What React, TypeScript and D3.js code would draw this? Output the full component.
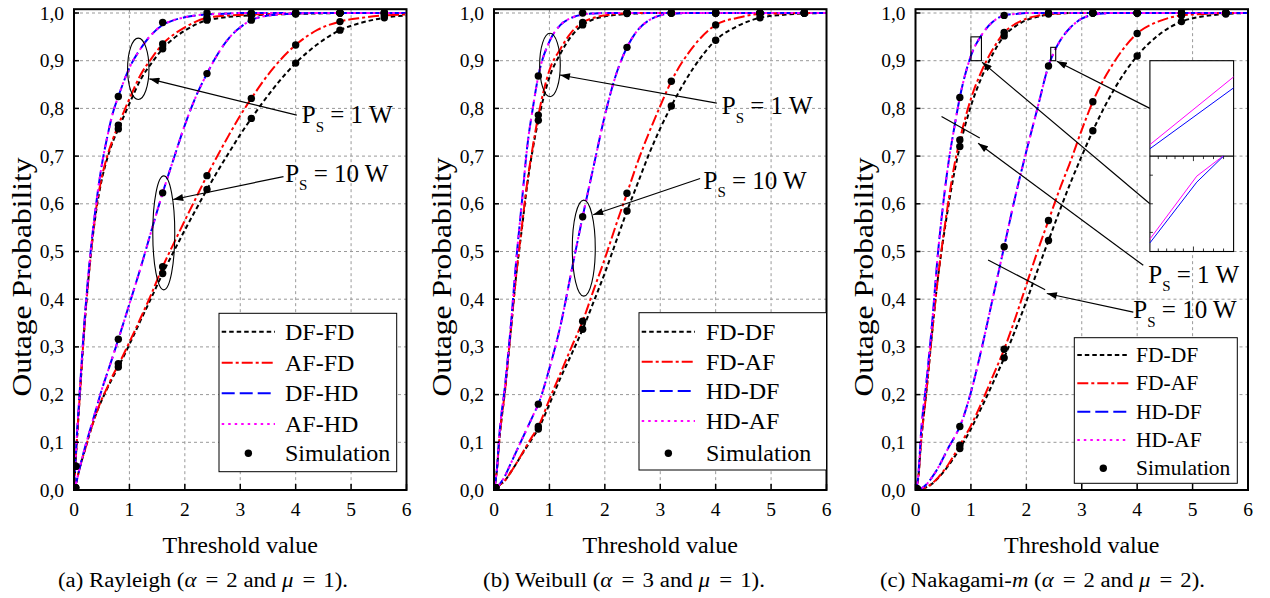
import { useEffect, useRef } from 'react';
import * as d3 from 'd3';

// threshold grid shared by every analytical curve
const X_GRID = [0, 0.05, 0.1, 0.2, 0.3, 0.4, 0.5, 0.6, 0.7, 0.8, 1.0, 1.2, 1.4, 1.6, 1.8, 2.0, 2.2, 2.4, 2.6, 2.8, 3.0, 3.2, 3.6, 4.0, 4.4, 4.8, 5.2, 5.6, 6.0];
const SIM_X = [0.03, 0.8, 1.6, 2.4, 3.2, 4.0, 4.8, 5.6];
const X_TICKS = [0, 1, 2, 3, 4, 5, 6];
const Y_TICKS = [0, 0.1, 0.2, 0.3, 0.4, 0.5, 0.6, 0.7, 0.8, 0.9, 1.0];

// (a) Rayleigh
const RAY_1W_HD = [0, 0.11, 0.2, 0.37, 0.5, 0.6, 0.68, 0.74, 0.79, 0.825, 0.885, 0.925, 0.955, 0.975, 0.985, 0.991, 0.995, 0.997, 0.998, 0.999, 1, 1, 1, 1, 1, 1, 1, 1, 1];
const RAY_1W_AF = [0, 0.1, 0.19, 0.36, 0.49, 0.59, 0.655, 0.7, 0.735, 0.765, 0.82, 0.87, 0.905, 0.935, 0.955, 0.97, 0.982, 0.99, 0.993, 0.995, 0.996, 0.997, 0.998, 0.999, 1, 1, 1, 1, 1];
const RAY_1W_DF = [0, 0.1, 0.19, 0.36, 0.49, 0.585, 0.65, 0.695, 0.73, 0.757, 0.81, 0.86, 0.895, 0.925, 0.947, 0.963, 0.976, 0.985, 0.989, 0.992, 0.994, 0.995, 0.997, 0.998, 0.999, 1, 1, 1, 1];
const RAY_10W_HD = [0, 0.02, 0.045, 0.09, 0.13, 0.17, 0.21, 0.245, 0.28, 0.316, 0.39, 0.465, 0.545, 0.623, 0.695, 0.765, 0.825, 0.873, 0.915, 0.948, 0.97, 0.985, 0.996, 0.999, 1, 1, 1, 1, 1];
const RAY_10W_AF = [0, 0.02, 0.045, 0.085, 0.125, 0.16, 0.19, 0.215, 0.24, 0.262, 0.31, 0.36, 0.412, 0.468, 0.517, 0.565, 0.612, 0.659, 0.703, 0.745, 0.785, 0.821, 0.885, 0.933, 0.965, 0.982, 0.99, 0.995, 0.997];
const RAY_10W_DF = [0, 0.02, 0.045, 0.085, 0.125, 0.16, 0.188, 0.213, 0.236, 0.258, 0.305, 0.355, 0.404, 0.454, 0.5, 0.545, 0.588, 0.63, 0.67, 0.708, 0.745, 0.779, 0.842, 0.895, 0.935, 0.964, 0.98, 0.99, 0.995];
const RAY_SIM_1W_HD = [0.05, 0.825, 0.98, 1, 1, 1, 1, 1];
const RAY_SIM_1W_AF = [0.05, 0.765, 0.935, 0.99, 0.997, 0.999, 1, 1];
const RAY_SIM_1W_DF = [0.05, 0.757, 0.925, 0.985, 0.995, 0.998, 1, 1];
const RAY_SIM_10W_HD = [0.005, 0.316, 0.623, 0.873, 0.985, 1, 1, 1];
const RAY_SIM_10W_AF = [0.005, 0.265, 0.468, 0.659, 0.821, 0.933, 0.982, 0.995];
const RAY_SIM_10W_DF = [0.005, 0.258, 0.454, 0.63, 0.779, 0.895, 0.964, 0.99];

// (b) Weibull
const WEI_1W_HD = [0, 0.04, 0.12, 0.22, 0.34, 0.48, 0.6, 0.72, 0.8, 0.868, 0.94, 0.975, 0.99, 0.997, 0.999, 1, 1, 1, 1, 1, 1, 1, 1, 1, 1, 1, 1, 1, 1];
const WEI_1W_AF = [0, 0.04, 0.11, 0.21, 0.33, 0.45, 0.55, 0.645, 0.72, 0.785, 0.88, 0.925, 0.96, 0.98, 0.99, 0.995, 0.998, 0.999, 1, 1, 1, 1, 1, 1, 1, 1, 1, 1, 1];
const WEI_1W_DF = [0, 0.04, 0.11, 0.21, 0.33, 0.45, 0.545, 0.64, 0.715, 0.775, 0.865, 0.915, 0.952, 0.975, 0.987, 0.993, 0.996, 0.998, 0.999, 1, 1, 1, 1, 1, 1, 1, 1, 1, 1];
const WEI_10W_HD = [0, 0.005, 0.012, 0.03, 0.055, 0.08, 0.105, 0.13, 0.155, 0.18, 0.255, 0.345, 0.46, 0.573, 0.68, 0.785, 0.87, 0.928, 0.965, 0.985, 0.995, 0.999, 1, 1, 1, 1, 1, 1, 1];
const WEI_10W_AF = [0, 0.004, 0.01, 0.02, 0.037, 0.055, 0.075, 0.095, 0.114, 0.133, 0.19, 0.245, 0.3, 0.354, 0.42, 0.485, 0.555, 0.622, 0.69, 0.75, 0.805, 0.857, 0.93, 0.975, 0.99, 0.998, 0.999, 1, 1];
const WEI_10W_DF = [0, 0.004, 0.01, 0.02, 0.037, 0.055, 0.074, 0.092, 0.11, 0.128, 0.18, 0.235, 0.285, 0.337, 0.395, 0.455, 0.52, 0.585, 0.645, 0.705, 0.758, 0.805, 0.885, 0.943, 0.973, 0.99, 0.996, 0.999, 1];
const WEI_SIM_1W_HD = [0.005, 0.868, 1, 1, 1, 1, 1, 1];
const WEI_SIM_1W_AF = [0.005, 0.786, 0.98, 1, 1, 1, 1, 1];
const WEI_SIM_1W_DF = [0.005, 0.775, 0.975, 0.999, 1, 1, 1, 1];
const WEI_SIM_10W_HD = [0.005, 0.18, 0.573, 0.928, 1, 1, 1, 1];
const WEI_SIM_10W_AF = [0.005, 0.133, 0.354, 0.622, 0.857, 0.975, 0.998, 1];
const WEI_SIM_10W_DF = [0.005, 0.128, 0.337, 0.585, 0.805, 0.943, 0.99, 1];

// (c) Nakagami-m
const NAK_1W_HD = [0, 0.03, 0.12, 0.23, 0.35, 0.49, 0.6, 0.69, 0.76, 0.823, 0.91, 0.955, 0.982, 0.995, 0.998, 1, 1, 1, 1, 1, 1, 1, 1, 1, 1, 1, 1, 1, 1];
const NAK_1W_AF = [0, 0.025, 0.1, 0.21, 0.33, 0.44, 0.53, 0.61, 0.68, 0.734, 0.82, 0.88, 0.925, 0.959, 0.977, 0.988, 0.994, 0.998, 0.999, 1, 1, 1, 1, 1, 1, 1, 1, 1, 1];
const NAK_1W_DF = [0, 0.025, 0.1, 0.21, 0.33, 0.44, 0.525, 0.6, 0.665, 0.72, 0.805, 0.867, 0.915, 0.952, 0.972, 0.985, 0.992, 0.997, 0.999, 1, 1, 1, 1, 1, 1, 1, 1, 1, 1];
const NAK_10W_HD = [0, 0.001, 0.003, 0.012, 0.027, 0.045, 0.067, 0.09, 0.11, 0.133, 0.205, 0.3, 0.405, 0.51, 0.615, 0.71, 0.8, 0.889, 0.94, 0.97, 0.988, 0.996, 1, 1, 1, 1, 1, 1, 1];
const NAK_10W_AF = [0, 0.001, 0.002, 0.006, 0.014, 0.025, 0.039, 0.055, 0.074, 0.094, 0.135, 0.185, 0.24, 0.295, 0.36, 0.43, 0.5, 0.565, 0.63, 0.69, 0.755, 0.814, 0.9, 0.957, 0.983, 0.995, 0.998, 1, 1];
const NAK_10W_DF = [0, 0.001, 0.002, 0.006, 0.013, 0.024, 0.037, 0.052, 0.069, 0.087, 0.128, 0.175, 0.225, 0.277, 0.335, 0.395, 0.46, 0.523, 0.585, 0.645, 0.7, 0.753, 0.843, 0.91, 0.955, 0.982, 0.993, 0.998, 1];
const NAK_SIM_1W_HD = [0.002, 0.823, 0.995, 1, 1, 1, 1, 1];
const NAK_SIM_1W_AF = [0.002, 0.734, 0.959, 1, 1, 1, 1, 1];
const NAK_SIM_1W_DF = [0.002, 0.72, 0.952, 0.998, 1, 1, 1, 1];
const NAK_SIM_10W_HD = [0.002, 0.133, 0.51, 0.889, 1, 1, 1, 1];
const NAK_SIM_10W_AF = [0.002, 0.094, 0.295, 0.565, 0.814, 0.957, 0.995, 1];
const NAK_SIM_10W_DF = [0.002, 0.087, 0.277, 0.523, 0.753, 0.91, 0.982, 0.998];

// zoomed inset of panel (c), normalised to each sub-box
const INSET_TOP_AF = [[0, 0.12], [1, 0.83]];
const INSET_TOP_DF = [[0, 0.077], [1, 0.715]];
const INSET_BOT_AF = [[0, 0.13], [0.56, 0.79], [0.873, 1]];
const INSET_BOT_DF = [[0, 0.09], [0.56, 0.727], [0.88, 1]];

const LEGEND_AB = ['DF-FD', 'AF-FD', 'DF-HD', 'AF-HD'];
const LEGEND_BC = ['FD-DF', 'FD-AF', 'HD-DF', 'HD-AF'];

const STYLES = [
  { color: '#000000', dash: '4.5,3' },
  { color: '#ff0000', dash: '11,3,3,3' },
  { color: '#0000ff', dash: '13,5' },
  { color: '#ff00ff', dash: '2.5,4' },
];

const FONT = "'Liberation Serif', 'Times New Roman', serif";
const PLOT_W = 332.5;
const Y_TOP = 13;
const Y_BOT = 490;

const PANELS = [
  {
    left: 74,
    names: LEGEND_AB,
    curves: [[RAY_1W_DF, RAY_1W_AF, RAY_1W_HD, RAY_1W_HD], [RAY_10W_DF, RAY_10W_AF, RAY_10W_HD, RAY_10W_HD]],
    sims: [RAY_SIM_1W_HD, RAY_SIM_1W_AF, RAY_SIM_1W_DF, RAY_SIM_10W_HD, RAY_SIM_10W_AF, RAY_SIM_10W_DF],
    legend: { x: 145, y: 313.3, w: 177.7, h: 158.4, rows: [331.7, 362.7, 393.3, 424, 453.3], lx: [147.7, 201], tx: 211, fs: 24 },
    caption: { pre: '(a) Rayleigh (', cx: 129, len: 290 },
    mu: '1', alpha: '2', kind: 'ell',
    ell1: { cx: 1.16, cy: 0.883, rx: 10.7, ry: 30.7 },
    arr1: [4.02, 0.786, 1.36, 0.862],
    lab1: [4.11, 0.769],
    ell10: { cx: 1.62, cy: 0.539, rx: 11, ry: 57 },
    arr10: [3.78, 0.657, 1.79, 0.609],
    lab10: [3.81, 0.646],
  },
  {
    left: 494,
    names: LEGEND_BC,
    curves: [[WEI_1W_DF, WEI_1W_AF, WEI_1W_HD, WEI_1W_HD], [WEI_10W_DF, WEI_10W_AF, WEI_10W_HD, WEI_10W_HD]],
    sims: [WEI_SIM_1W_HD, WEI_SIM_1W_AF, WEI_SIM_1W_DF, WEI_SIM_10W_HD, WEI_SIM_10W_AF, WEI_SIM_10W_DF],
    legend: { x: 145, y: 312.7, w: 187.5, h: 157.3, rows: [331.7, 361.7, 391, 421, 453.3], lx: [147.7, 201], tx: 212, fs: 24 },
    caption: { pre: '(b) Weibull (', cx: 130, len: 282 },
    mu: '1', alpha: '3', kind: 'ell',
    ell1: { cx: 1.01, cy: 0.891, rx: 10.3, ry: 31.7 },
    arr1: [4.02, 0.811, 1.19, 0.87],
    lab1: [4.11, 0.788],
    ell10: { cx: 1.62, cy: 0.507, rx: 11.5, ry: 48 },
    arr10: [3.72, 0.653, 1.79, 0.577],
    lab10: [3.78, 0.632],
  },
  {
    left: 915.5,
    names: LEGEND_BC,
    curves: [[NAK_1W_DF, NAK_1W_AF, NAK_1W_HD, NAK_1W_HD], [NAK_10W_DF, NAK_10W_AF, NAK_10W_HD, NAK_10W_HD]],
    sims: [NAK_SIM_1W_HD, NAK_SIM_1W_AF, NAK_SIM_1W_DF, NAK_SIM_10W_HD, NAK_SIM_10W_AF, NAK_SIM_10W_DF],
    legend: { x: 158.8, y: 337.7, w: 163, h: 145.6, rows: [355, 383.3, 411.7, 440, 468.3], lx: [161.8, 213.8], tx: 220.5, fs: 21.5 },
    caption: { pre: '(c) Nakagami-', cx: 127, len: 325 },
    mu: '2', alpha: '2', kind: 'inset',
    lab1: [4.2, 0.434],
    lab10: [3.93, 0.36],
  },
];

export default function App() {
  const svgRef = useRef<SVGSVGElement>(null);

  useEffect(() => {
    if (!svgRef.current) return;
    const svg = d3.select(svgRef.current);
    svg.selectAll('*').remove();
    svg.append('rect').attr('width', 1270).attr('height', 598).attr('fill', '#fff');

    const defs = svg.append('defs');
    defs.append('marker')
      .attr('id', 'arrow')
      .attr('viewBox', '0 0 10 7')
      .attr('refX', 10).attr('refY', 3.5)
      .attr('markerWidth', 11).attr('markerHeight', 7)
      .attr('markerUnits', 'userSpaceOnUse')
      .attr('orient', 'auto')
      .append('path').attr('d', 'M0,0L10,3.5L0,7Z').attr('fill', '#000');

    const x = d3.scaleLinear().domain([0, 6]).range([0, PLOT_W]);
    const y = d3.scaleLinear().domain([0, 1]).range([Y_BOT, Y_TOP]);
    const fmt = (v: number) => d3.format('.1f')(v).replace('.', ',');

    PANELS.forEach((p, pi) => {
      const g = svg.append('g').attr('transform', `translate(${p.left},0)`).attr('font-family', FONT);
      const frameTop = y(1.008);

      defs.append('clipPath').attr('id', `clip${pi}`)
        .append('rect').attr('x', 0).attr('y', frameTop).attr('width', PLOT_W).attr('height', Y_BOT - frameTop);

      // grid
      g.append('g').selectAll('line').data(X_TICKS.slice(1, -1)).enter().append('line')
        .attr('x1', d => x(d)).attr('x2', d => x(d)).attr('y1', frameTop).attr('y2', Y_BOT)
        .attr('stroke', '#999').attr('stroke-width', 1).attr('stroke-dasharray', '3,3');
      g.append('g').selectAll('line').data(Y_TICKS.slice(1)).enter().append('line')
        .attr('x1', 0).attr('x2', PLOT_W).attr('y1', d => y(d)).attr('y2', d => y(d))
        .attr('stroke', '#999').attr('stroke-width', 1).attr('stroke-dasharray', '3,3');

      // curves
      const line = d3.line<number>()
        .x((_, i) => x(X_GRID[i]))
        .y(d => y(d))
        .curve(d3.curveMonotoneX);
      const cg = g.append('g').attr('clip-path', `url(#clip${pi})`);
      p.curves.forEach(group => {
        group.forEach((vals, si) => {
          cg.append('path')
            .attr('d', line(vals) as string)
            .attr('fill', 'none')
            .attr('stroke', STYLES[si].color)
            .attr('stroke-width', 2)
            .attr('stroke-dasharray', STYLES[si].dash);
        });
      });

      // simulation points
      p.sims.forEach(vals => {
        cg.selectAll(null).data(vals).enter().append('circle')
          .attr('cx', (_, i) => x(SIM_X[i]))
          .attr('cy', d => y(d))
          .attr('r', 3.7)
          .attr('fill', '#000');
      });

      // frame and ticks
      g.append('rect').attr('x', 0).attr('y', frameTop).attr('width', PLOT_W).attr('height', Y_BOT - frameTop)
        .attr('fill', 'none').attr('stroke', '#000').attr('stroke-width', 2);
      g.selectAll(null).data(X_TICKS).enter().append('line')
        .attr('x1', d => x(d)).attr('x2', d => x(d)).attr('y1', Y_BOT).attr('y2', Y_BOT - 6)
        .attr('stroke', '#000').attr('stroke-width', 1.5);
      g.selectAll(null).data(Y_TICKS).enter().append('line')
        .attr('x1', 0).attr('x2', 5).attr('y1', d => y(d)).attr('y2', d => y(d))
        .attr('stroke', '#000').attr('stroke-width', 1.5);

      g.selectAll(null).data(X_TICKS).enter().append('text')
        .attr('x', d => x(d)).attr('y', 516)
        .attr('text-anchor', 'middle').attr('font-size', 19.5)
        .text(d => String(d));
      g.selectAll(null).data(Y_TICKS).enter().append('text')
        .attr('x', -10).attr('y', d => y(d) + 6.5)
        .attr('text-anchor', 'end').attr('font-size', 19.5)
        .text(d => fmt(d));

      g.append('text').attr('x', PLOT_W / 2).attr('y', 553)
        .attr('text-anchor', 'middle').attr('font-size', 24).text('Threshold value');
      g.append('text')
        .attr('transform', `translate(-43,277) rotate(-90)`)
        .attr('text-anchor', 'middle').attr('font-size', 27)
        .attr('textLength', 239).attr('lengthAdjust', 'spacingAndGlyphs')
        .text('Outage Probability');

      // caption, with math-style spacing round the equals signs
      const cap = g.append('text').attr('x', p.caption.cx).attr('y', 587)
        .attr('text-anchor', 'middle').attr('font-size', 20)
        .attr('textLength', p.caption.len).attr('lengthAdjust', 'spacingAndGlyphs');
      cap.append('tspan').text(p.caption.pre);
      if (p.kind === 'inset') {
        cap.append('tspan').attr('font-style', 'italic').text('m');
        cap.append('tspan').text(' (');
      }
      cap.append('tspan').attr('font-style', 'italic').text('α');
      cap.append('tspan').attr('dx', 8).text('=');
      cap.append('tspan').attr('dx', 7).text(p.alpha);
      cap.append('tspan').text(' and ');
      cap.append('tspan').attr('font-style', 'italic').text('μ');
      cap.append('tspan').attr('dx', 8).text('=');
      cap.append('tspan').attr('dx', 7).text(`${p.mu}).`);

      // legend
      const L = p.legend;
      const lg = g.append('g');
      lg.append('rect').attr('x', L.x).attr('y', L.y).attr('width', L.w).attr('height', L.h)
        .attr('fill', '#fff').attr('stroke', '#000').attr('stroke-width', 1);
      p.names.forEach((name, i) => {
        lg.append('line').attr('x1', L.lx[0]).attr('x2', L.lx[1]).attr('y1', L.rows[i]).attr('y2', L.rows[i])
          .attr('stroke', STYLES[i].color).attr('stroke-width', 2).attr('stroke-dasharray', STYLES[i].dash);
        lg.append('text').attr('x', L.tx).attr('y', L.rows[i] + L.fs * 0.33).attr('font-size', L.fs).text(name);
      });
      lg.append('circle').attr('cx', (L.lx[0] + L.lx[1]) / 2).attr('cy', L.rows[4]).attr('r', 3.7).attr('fill', '#000');
      lg.append('text').attr('x', L.tx).attr('y', L.rows[4] + L.fs * 0.33).attr('font-size', L.fs).text('Simulation');

      // power annotations
      const label = (pos: number[], w: string) => {
        const t = g.append('text').attr('x', x(pos[0])).attr('y', y(pos[1])).attr('font-size', 25);
        t.append('tspan').text('P');
        t.append('tspan').attr('font-size', 15).attr('dy', 8.5).text('S');
        t.append('tspan').attr('dy', -8.5).text(` = ${w} W`);
      };
      const arrow = (a: number[]) => {
        g.append('line').attr('x1', x(a[0])).attr('y1', y(a[1])).attr('x2', x(a[2])).attr('y2', y(a[3]))
          .attr('stroke', '#000').attr('stroke-width', 1.2).attr('marker-end', 'url(#arrow)');
      };
      const plain = (a: number[]) => {
        g.append('line').attr('x1', x(a[0])).attr('y1', y(a[1])).attr('x2', x(a[2])).attr('y2', y(a[3]))
          .attr('stroke', '#000').attr('stroke-width', 1.2);
      };

      if (p.kind === 'ell' && p.ell1 && p.ell10 && p.arr1 && p.arr10) {
        [p.ell1, p.ell10].forEach(e => {
          g.append('ellipse').attr('cx', x(e.cx)).attr('cy', y(e.cy)).attr('rx', e.rx).attr('ry', e.ry)
            .attr('fill', 'none').attr('stroke', '#000').attr('stroke-width', 1.1);
        });
        arrow(p.arr1);
        arrow(p.arr10);
      } else {
        // zoom boxes
        const boxes = [[1.0, 0.9, 1.19, 0.95], [2.44, 0.9, 2.53, 0.928]];
        boxes.forEach(b => {
          g.append('rect').attr('x', x(b[0])).attr('y', y(b[3])).attr('width', x(b[2]) - x(b[0])).attr('height', y(b[1]) - y(b[3]))
            .attr('fill', 'none').attr('stroke', '#000').attr('stroke-width', 1.1);
        });
        arrow([4.23, 0.8, 2.55, 0.899]);
        arrow([4.23, 0.6, 1.2, 0.897]);
        plain([0.47, 0.783, 1.16, 0.738]);
        arrow([4.11, 0.471, 1.13, 0.727]);
        plain([1.31, 0.482, 2.34, 0.42]);
        arrow([3.93, 0.373, 2.37, 0.412]);

        // inset
        const bx0 = x(4.23), bx1 = x(5.74);
        const sx = d3.scaleLinear().domain([0, 1]).range([bx0, bx1]);
        const syTop = d3.scaleLinear().domain([0, 1]).range([y(0.7), y(0.9)]);
        const syBot = d3.scaleLinear().domain([0, 1]).range([y(0.5), y(0.7)]);
        const ig = g.append('g');
        ig.append('rect').attr('x', bx0).attr('y', y(0.9)).attr('width', bx1 - bx0).attr('height', y(0.5) - y(0.9))
          .attr('fill', '#fff').attr('stroke', '#000').attr('stroke-width', 1.1);
        ig.append('line').attr('x1', bx0).attr('x2', bx1).attr('y1', y(0.7)).attr('y2', y(0.7))
          .attr('stroke', '#000').attr('stroke-width', 1.3);
        const ticks = [0.1, 0.2, 0.3, 0.4, 0.52, 0.64, 0.76, 0.88];
        ticks.forEach(t => {
          const len = t === 0.52 ? 5 : 3;
          ig.append('line').attr('x1', sx(t)).attr('x2', sx(t)).attr('y1', y(0.5)).attr('y2', y(0.5) - len)
            .attr('stroke', '#000').attr('stroke-width', 0.8);
          ig.append('line').attr('x1', sx(t)).attr('x2', sx(t)).attr('y1', y(0.7)).attr('y2', y(0.7) + len)
            .attr('stroke', '#000').attr('stroke-width', 0.8);
        });
        [0.2, 0.5, 0.8].forEach(t => {
          ig.append('line').attr('x1', bx0).attr('x2', bx0 + 3).attr('y1', syBot(t)).attr('y2', syBot(t))
            .attr('stroke', '#000').attr('stroke-width', 0.8);
        });
        const il = (sy: d3.ScaleLinear<number, number>) => d3.line<number[]>().x(d => sx(d[0])).y(d => sy(d[1]));
        const insetLines: [number[][], string, d3.ScaleLinear<number, number>][] = [
          [INSET_TOP_AF, '#ff00ff', syTop], [INSET_TOP_DF, '#0000ff', syTop],
          [INSET_BOT_AF, '#ff00ff', syBot], [INSET_BOT_DF, '#0000ff', syBot],
        ];
        insetLines.forEach(([pts, col, sy]) => {
          ig.append('path').attr('d', il(sy)(pts) as string).attr('fill', 'none')
            .attr('stroke', col).attr('stroke-width', 1);
        });
      }
      label(p.lab1, '1');
      label(p.lab10, '10');
    });
  }, []);

  return (
    <div style={{ position: 'absolute', left: 0, top: 0 }}>
      <svg ref={svgRef} width={1270} height={598} style={{ display: 'block' }} />
    </div>
  );
}
